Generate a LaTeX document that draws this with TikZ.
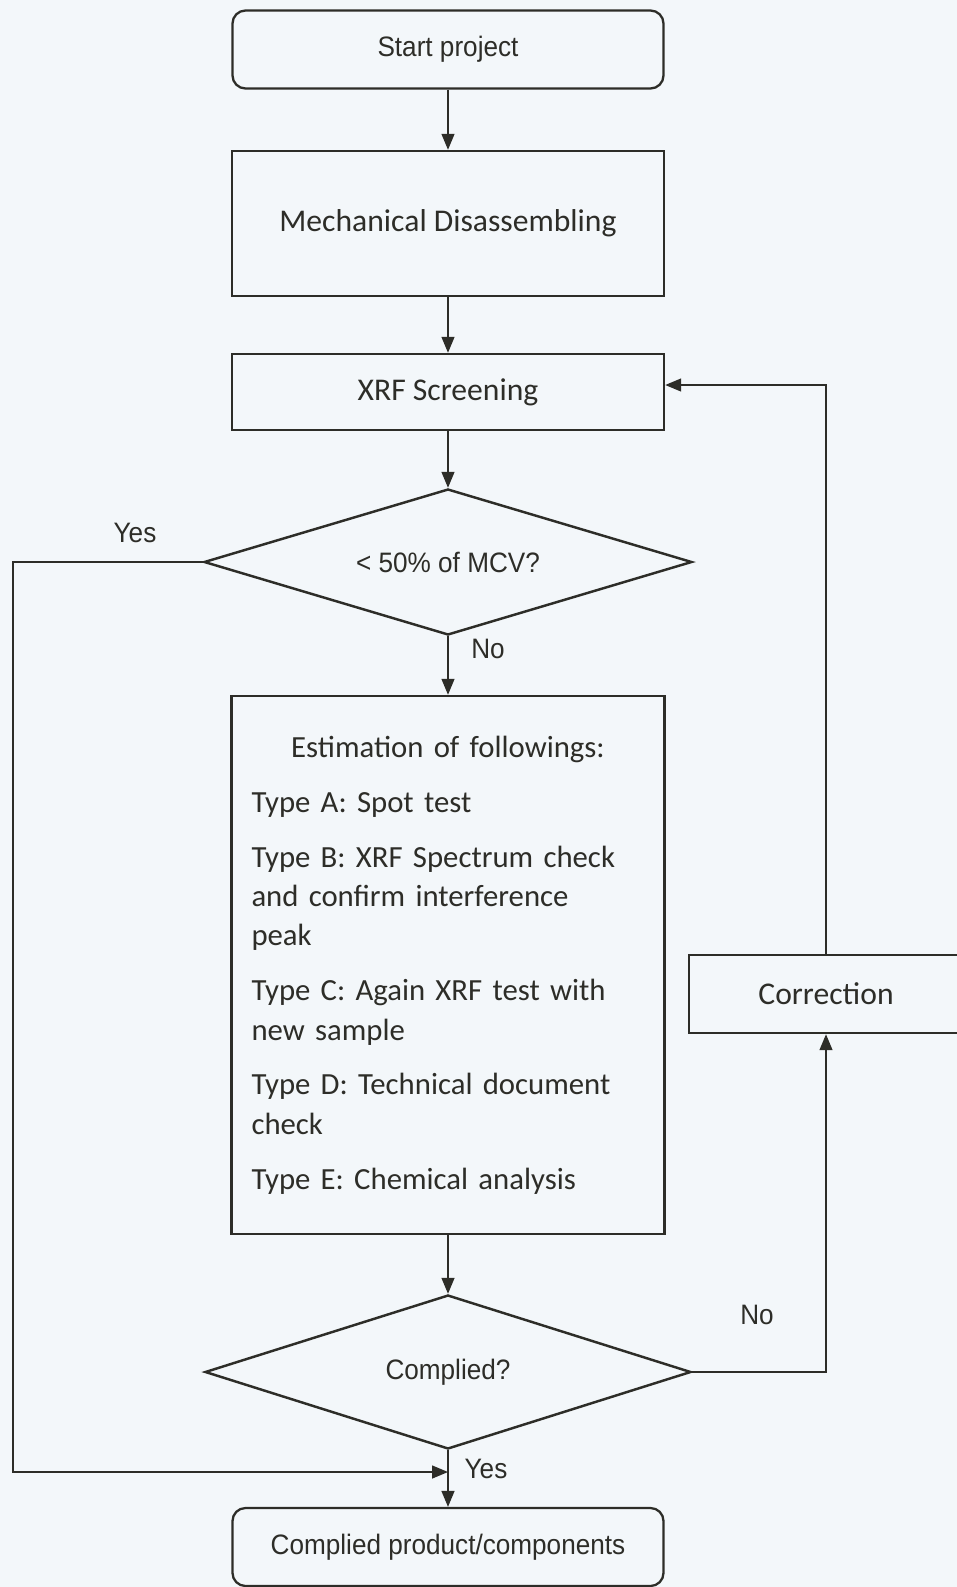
\documentclass[tikz,border=0pt]{standalone}
\usepackage{fontspec}
\setmainfont{Carlito}
\newfontfamily\narrowfont[FakeStretch=0.93]{Liberation Sans}
\usepackage{xcolor}
\usetikzlibrary{arrows.meta,shapes.geometric}
\definecolor{ink}{RGB}{45,45,40}
\definecolor{paper}{RGB}{243,247,250}

\begin{document}
\begin{tikzpicture}[
    terminal/.style={draw=ink, line width=1.3pt, rounded corners=0.26cm, minimum width=8.62cm, minimum height=1.56cm, font=\narrowfont\fontsize{16}{19}\selectfont, text=ink},
    process/.style={draw=ink, line width=1.4pt, minimum width=8.64cm, align=center, font=\fontsize{18}{22.4}\selectfont, text=ink},
    decision/.style={diamond, draw=ink, line width=1.4pt, aspect=3.3, inner sep=0pt, font=\narrowfont\fontsize{16}{19}\selectfont, text=ink},
    answer/.style={font=\narrowfont\fontsize{16}{19}\selectfont, text=ink},
    flow/.style={draw=ink, line width=0.8pt, -{Triangle[length=0.32cm,width=0.26cm]}}
]
\fill[paper] (0,0) rectangle (19.14,-31.74);
\useasboundingbox (0,0) rectangle (19.14,-31.74);
\node[terminal] (a) at (8.96,-0.99) {Start project};
\node[process, minimum height=2.9cm] (b) at (8.96,-4.47) {Mechanical Disassembling};
\node[process, minimum height=1.52cm] (c) at (8.96,-7.84) {XRF Screening};
\node[decision, minimum width=9.76cm, minimum height=2.92cm] (d) at (8.96,-11.24) {< 50\% of MCV?};
\node[process, text width=7.86cm, inner sep=0.4cm, align=left, minimum height=10.76cm, font=\fontsize{17.5}{22.4}\selectfont] (e) at (8.96,-19.30) {\makebox[7.86cm][c]{Estimation of followings:}\\[0.31cm]
  Type A: Spot test\\[0.31cm]
  Type B: XRF Spectrum check\\
  and confirm interference\\
  peak\\[0.31cm]
  Type C: Again XRF test with\\
  new sample\\[0.31cm]
  Type D: Technical document\\
  check\\[0.31cm]
  Type E: Chemical analysis};
\node[decision, minimum width=9.72cm, minimum height=3.08cm] (f) at (8.96,-27.44) {Complied?};
\node[process, minimum width=5.48cm, minimum height=1.56cm] (g) at (16.52,-19.88) {Correction};
\node[terminal] (h) at (8.96,-30.94) {Complied product/components};
\coordinate (yb) at (0.26,-29.44);
\coordinate (yj) at (8.96,-29.44);
\draw[flow] (a) -- (b);
\draw[flow] (b) -- (c);
\draw[flow] (c) -- (d);
\draw[flow] (d) -- (e);
\draw[flow] (e) -- (f);
\draw[flow] (f) -- (h);
\draw[flow] (d.west) -| (yb) -- (yj);
\draw[flow] (f.east) -| (g.south);
\draw[flow] (g.north) |- ([yshift=0.14cm]c.east);
\node[answer] (y1) at (2.70,-10.66) {Yes};
\node[answer] (n1) at (9.76,-12.98) {No};
\node[answer] (n2) at (15.14,-26.30) {No};
\node[answer] (y2) at (9.72,-29.38) {Yes};
\end{tikzpicture}
\end{document}
